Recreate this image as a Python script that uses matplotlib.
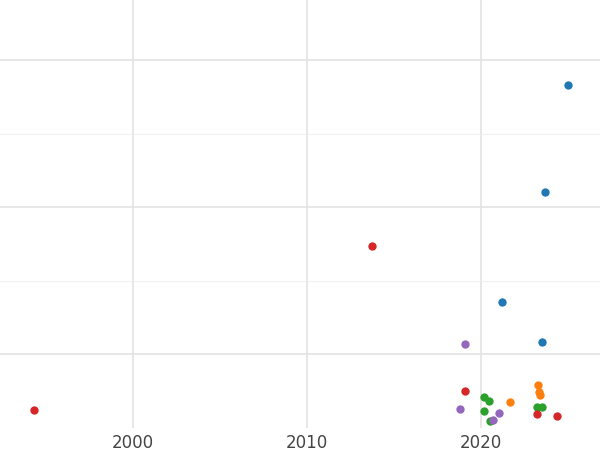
import matplotlib
matplotlib.use("Agg")
import matplotlib.pyplot as plt
from matplotlib.ticker import MultipleLocator

blue_x = [2025.0, 2023.68, 2021.21, 2023.51]
blue_y = [1.830, 1.102, 0.354, 0.082]
red_x = [2013.74, 1994.31, 2019.08, 2023.22, 2024.37]
red_y = [0.735, -0.381, -0.252, -0.408, -0.422]
purple_x = [2019.08, 2018.80, 2021.04, 2020.69]
purple_y = [0.068, -0.374, -0.401, -0.449]
orange_x = [2023.28, 2023.34, 2023.39, 2021.67]
orange_y = [-0.211, -0.259, -0.279, -0.327]
green_x = [2020.18, 2020.46, 2020.18, 2023.22, 2023.51, 2020.52]
green_y = [-0.293, -0.320, -0.388, -0.361, -0.361, -0.456]

fig = plt.figure(figsize=(6, 4.5), dpi=100)
ax = fig.add_axes([0, 428/450, 1, 0]) if False else fig.add_axes([0, 22/450, 1, 428/450])
series = [(blue_x, blue_y, "#1f77b4"), (orange_x, orange_y, "#ff7f0e"),
          (green_x, green_y, "#2ca02c"), (red_x, red_y, "#d62728"),
          (purple_x, purple_y, "#9467bd")]
for x, y, c in series:
    ax.scatter(x, y, s=36, color=c, zorder=3, linewidths=0)
ax.set_xlim(1992.36, 2026.84)
ax.set_ylim(-0.503, 2.408)
ax.set_xticks([2000, 2010, 2020])
ax.yaxis.set_major_locator(MultipleLocator(1))
ax.yaxis.set_minor_locator(MultipleLocator(0.5))
ax.grid(True, which="major", color="#e3e3e3", linewidth=1.2)
ax.grid(True, which="minor", axis="y", color="#f0f0f0", linewidth=0.8)
ax.tick_params(axis="x", length=0, labelsize=12, labelcolor="#444444", pad=4)
ax.tick_params(axis="y", which="both", length=0, labelleft=False)
for s in ax.spines.values():
    s.set_visible(False)
fig.savefig("out.png", dpi=100)
